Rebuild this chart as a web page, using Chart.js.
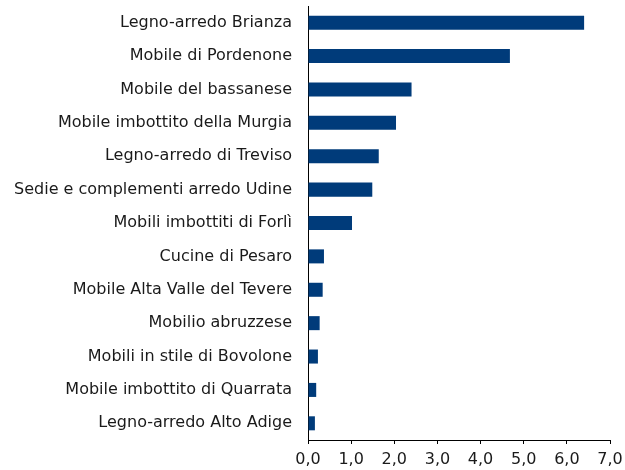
<!DOCTYPE html>
<html>
<head>
<meta charset="utf-8">
<script src="https://cdn.jsdelivr.net/npm/chart.js@4"></script>
<style>
  html, body { margin: 0; padding: 0; background: #ffffff; }
  #wrap { width: 625px; height: 470px; }
</style>
</head>
<body>
<div id="wrap"><canvas id="c" width="625" height="470"></canvas></div>
<script>
const categories = [
  "Legno-arredo Brianza",
  "Mobile di Pordenone",
  "Mobile del bassanese",
  "Mobile imbottito della Murgia",
  "Legno-arredo di Treviso",
  "Sedie e complementi arredo Udine",
  "Mobili imbottiti di Forlì",
  "Cucine di Pesaro",
  "Mobile Alta Valle del Tevere",
  "Mobilio abruzzese",
  "Mobili in stile di Bovolone",
  "Mobile imbottito di Quarrata",
  "Legno-arredo Alto Adige"
];
const values = [6.40, 4.68, 2.40, 2.04, 1.64, 1.49, 1.02, 0.37, 0.34, 0.27, 0.23, 0.19, 0.16];
const xTicks = [0, 1, 2, 3, 4, 5, 6, 7];

const FONT = "'DejaVu Sans', sans-serif";

new Chart(document.getElementById('c'), {
  type: 'bar',
  data: {
    labels: categories,
    datasets: [{
      data: values,
      backgroundColor: '#003B7A',
      borderWidth: 0,
      categoryPercentage: 1.0,
      barPercentage: 0.42
    }]
  },
  options: {
    indexAxis: 'y',
    responsive: false,
    animation: false,
    layout: { padding: { top: 6, right: 15, bottom: 0, left: 0 } },
    plugins: { legend: { display: false }, tooltip: { enabled: false } },
    scales: {
      x: {
        min: 0, max: 7,
        afterBuildTicks: (s) => { s.ticks = xTicks.map(v => ({ value: v })); },
        afterFit: (s) => { s.height = 30; s.paddingLeft = 0; s.paddingRight = 0; },
        grid: { display: true, drawOnChartArea: false, drawTicks: true, tickLength: 4, color: '#000000', lineWidth: 1 },
        border: { display: true, color: '#000000', width: 1 },
        ticks: {
          color: '#1a1a1a',
          font: { family: FONT, size: 16 },
          padding: 6,
          maxRotation: 0,
          callback: (v) => Number(v).toFixed(1).replace('.', ',')
        }
      },
      y: {
        afterFit: (s) => { s.width = 308; s.paddingTop = 0; s.paddingBottom = 0; },
        grid: { display: false, drawTicks: false },
        border: { display: true, color: '#000000', width: 1 },
        ticks: {
          color: '#1a1a1a',
          font: { family: FONT, size: 16 },
          padding: 16,
          autoSkip: false
        }
      }
    }
  }
});
</script>
</body>
</html>
